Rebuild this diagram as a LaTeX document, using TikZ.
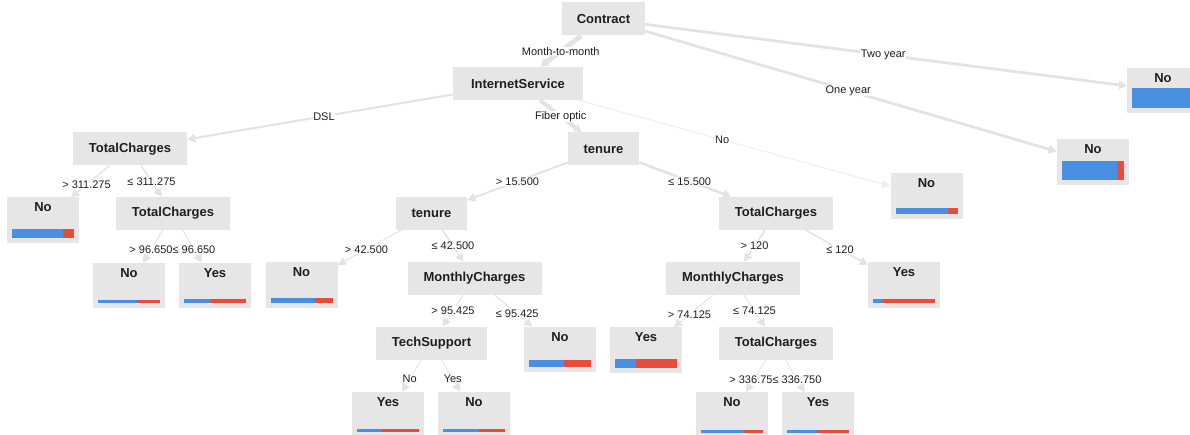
\documentclass[tikz,border=0pt]{standalone}
\usepackage{fontspec}
\setmainfont{Liberation Sans}
\usetikzlibrary{arrows.meta,calc}

\definecolor{boxgray}{RGB}{230,230,230}
\definecolor{edgegray}{RGB}{227,227,227}
\definecolor{faintgray}{RGB}{238,238,238}
\definecolor{noblue}{RGB}{74,144,226}
\definecolor{yesred}{RGB}{231,76,60}
\definecolor{txt}{RGB}{30,30,30}

\tikzset{
  split/.style={fill=boxgray, minimum height=24.75pt, inner sep=0pt,
    font=\bfseries\fontsize{9.75}{11}\selectfont, text=txt},
  leafbox/.style={fill=boxgray, minimum width=54pt, minimum height=34pt, inner sep=0pt},
  leaflabel/.style={font=\bfseries\fontsize{9.75}{11}\selectfont, text=txt, inner sep=0pt},
  branch/.style={draw=edgegray, line width=#1, -{Triangle[length=6pt,width=6.5pt]}},
  branch/.default=0.75pt,
  cond/.style={fill=white, inner sep=0.4pt, font=\fontsize{8.25}{9}\selectfont, text=txt},
}

% leaf: name, x, y, class, blue length, bar height
\newcommand\leafnode[6]{%
  \node[leafbox] (#1) at (#2,#3) {};
  \node[leaflabel] (#1-t) at (#2,#3-12.5) {#4};
  \fill[noblue] (#2-31,#3+17.5) rectangle ++(#5,-#6);
  \fill[yesred] (#2-31+#5,#3+17.5) rectangle (#2+31,#3+17.5-#6);
}
% edge label at the midpoint between two node centres
\newcommand\condlabel[4]{%
  \node[cond] (#1) at ($(#2.center)!0.5!(#3.center)$) {#4};
}

\begin{document}
\begin{tikzpicture}[x=0.75pt, y=-0.75pt]
\useasboundingbox (0,0) rectangle (1190,435);
\clip (0,0) rectangle (1190,435);

% split nodes
\node[split, minimum width=62.25pt] (contract) at (603.5,19) {Contract};
\node[split, minimum width=97.5pt] (inet) at (518,83.5) {InternetService};
\node[split, minimum width=85.5pt] (tcA) at (130,149) {TotalCharges};
\node[split, minimum width=53.25pt] (tenA) at (603.5,149) {tenure};
\node[split, minimum width=85.5pt] (tcB) at (173,213.5) {TotalCharges};
\node[split, minimum width=53.25pt] (tenB) at (431.5,213.5) {tenure};
\node[split, minimum width=85.5pt] (tcC) at (776,213.5) {TotalCharges};
\node[split, minimum width=100.5pt] (mcA) at (474.5,278.5) {MonthlyCharges};
\node[split, minimum width=100.5pt] (mcB) at (733,278.5) {MonthlyCharges};
\node[split, minimum width=83.25pt] (tech) at (431.5,343) {TechSupport};
\node[split, minimum width=85.5pt] (tcD) at (776,343.5) {TotalCharges};

% leaves
\leafnode{lfTwo}{1163}{90.5}{No}{62}{20}
\leafnode{lfOne}{1093}{162}{No}{55}{18}
\leafnode{lfNet}{926.5}{196}{No}{52}{6}
\leafnode{lfA}{43}{220}{No}{51}{9}
\leafnode{lfB}{129}{285.5}{No}{39}{3}
\leafnode{lfC}{215}{285.5}{Yes}{26}{4}
\leafnode{lfD}{301.5}{285}{No}{44}{5}
\leafnode{lfE}{560}{349.5}{No}{35}{7}
\leafnode{lfF}{388}{414.5}{Yes}{24}{3}
\leafnode{lfG}{474}{414.5}{No}{36}{3}
\leafnode{lfH}{904}{285}{Yes}{9}{4}
\leafnode{lfI}{646}{350}{Yes}{21}{9}
\leafnode{lfJ}{732}{415}{No}{42}{3}
\leafnode{lfK}{818}{415}{Yes}{30}{3}

% branches
\draw[branch=3.75pt] (contract) -- (inet);
\draw[branch=2.1pt] (contract) -- (lfOne);
\draw[branch=2.1pt] (contract) -- (lfTwo);
\draw[branch=1.5pt] (inet) -- (tcA);
\draw[branch=3pt] (inet) -- (tenA);
\draw[branch=0.75pt, draw=faintgray] (inet) -- (lfNet);
\draw[branch=1.1pt] (tcA) -- (lfA);
\draw[branch=1.1pt] (tcA) -- (tcB);
\draw[branch] (tcB) -- (lfB);
\draw[branch] (tcB) -- (lfC);
\draw[branch=1.5pt] (tenA) -- (tenB);
\draw[branch=1.9pt] (tenA) -- (tcC);
\draw[branch] (tenB) -- (lfD);
\draw[branch=1.1pt] (tenB) -- (mcA);
\draw[branch] (mcA) -- (tech);
\draw[branch] (mcA) -- (lfE);
\draw[branch=0.6pt] (tech) -- (lfF);
\draw[branch=0.6pt] (tech) -- (lfG);
\draw[branch=1.1pt] (tcC) -- (mcB);
\draw[branch=1.1pt] (tcC) -- (lfH);
\draw[branch] (mcB) -- (lfI);
\draw[branch] (mcB) -- (tcD);
\draw[branch=0.6pt] (tcD) -- (lfJ);
\draw[branch=0.6pt] (tcD) -- (lfK);

% branch conditions
\condlabel{c1}{contract}{inet}{Month-to-month}
\condlabel{c2}{contract}{lfOne}{One year}
\condlabel{c3}{contract}{lfTwo}{Two year}
\condlabel{c4}{inet}{tcA}{DSL}
\condlabel{c5}{inet}{tenA}{Fiber optic}
\condlabel{c6}{inet}{lfNet}{No}
\condlabel{c7}{tcA}{lfA}{> 311.275}
\condlabel{c8}{tcA}{tcB}{≤ 311.275}
\condlabel{c9}{tcB}{lfB}{> 96.650}
\condlabel{c10}{tcB}{lfC}{≤ 96.650}
\condlabel{c11}{tenA}{tenB}{> 15.500}
\condlabel{c12}{tenA}{tcC}{≤ 15.500}
\condlabel{c13}{tenB}{lfD}{> 42.500}
\condlabel{c14}{tenB}{mcA}{≤ 42.500}
\condlabel{c15}{mcA}{tech}{> 95.425}
\condlabel{c16}{mcA}{lfE}{≤ 95.425}
\condlabel{c17}{tech}{lfF}{No}
\condlabel{c18}{tech}{lfG}{Yes}
\condlabel{c19}{tcC}{mcB}{> 120}
\condlabel{c20}{tcC}{lfH}{≤ 120}
\condlabel{c21}{mcB}{lfI}{> 74.125}
\condlabel{c22}{mcB}{tcD}{≤ 74.125}
\condlabel{c23}{tcD}{lfJ}{> 336.750}
\condlabel{c24}{tcD}{lfK}{≤ 336.750}
\end{tikzpicture}
\end{document}
